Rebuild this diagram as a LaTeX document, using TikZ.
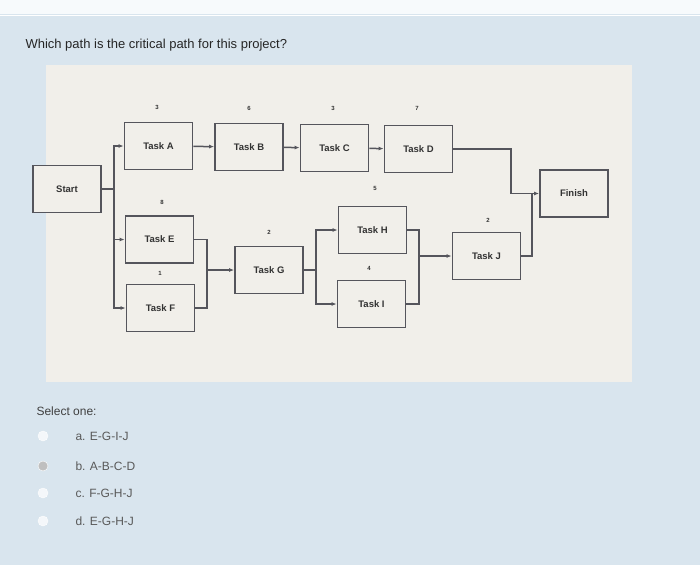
\documentclass[tikz,border=0pt]{standalone}
\usepackage{fontspec}
\setmainfont{Liberation Sans}
\usetikzlibrary{arrows.meta}
\definecolor{pagebg}{HTML}{D9E5EE}
\definecolor{diagbg}{HTML}{F1EFEA}
\definecolor{boxline}{HTML}{55555C}
\begin{document}
\begin{tikzpicture}[x=1pt,y=-1pt,
  task/.style={draw=boxline,line width=1.8pt,fill=diagbg,minimum width=68pt,minimum height=47pt,font=\fontsize{9.5}{11}\selectfont\bfseries,text=black!80},
  dur/.style={font=\fontsize{6}{7}\selectfont\bfseries,text=black!80},
  conn/.style={draw=boxline,line width=1.5pt},
  arr/.style={conn,-{Latex[length=5pt,width=4pt]}},
  opt/.style={anchor=west,font=\fontsize{12}{14}\selectfont,text=black!65},
  radio/.style={circle,draw=white,fill=white!70!pagebg,minimum size=10pt,inner sep=0pt}]
\useasboundingbox (0,0) rectangle (700,565);
\fill[pagebg] (0,0) rectangle (700,565);
\fill[white!80!pagebg] (0,0) rectangle (700,14);
\draw[white,line width=1pt] (0,15) -- (700,15);
\fill[diagbg] (46,65) rectangle (632,382);
\node[anchor=west,font=\fontsize{13}{15}\selectfont,text=black!85] (q) at (22,45) {Which path is the critical path for this project?};
\node[task] (st) at (67,189) {Start};
\node[task] (A) at (158.5,146) {Task A};
\node[task] (B) at (249,147) {Task B};
\node[task] (C) at (334.5,148) {Task C};
\node[task] (D) at (418.5,149) {Task D};
\node[task] (fin) at (574,193.5) {Finish};
\node[task] (E) at (159.5,239.5) {Task E};
\node[task] (F) at (160.5,308) {Task F};
\node[task] (G) at (269,270) {Task G};
\node[task] (H) at (372.5,230) {Task H};
\node[task] (I) at (371.5,304) {Task I};
\node[task] (J) at (486.5,256) {Task J};
\node[dur] (dA) at (157,107) {3};
\node[dur] (dB) at (249,108) {6};
\node[dur] (dC) at (333,108) {3};
\node[dur] (dD) at (417,108) {7};
\node[dur] (dE) at (162,202) {8};
\node[dur] (dF) at (160,273) {1};
\node[dur] (dG) at (269,232) {2};
\node[dur] (dH) at (375,188) {5};
\node[dur] (dI) at (369,268) {4};
\node[dur] (dJ) at (488,220) {2};
\coordinate (j1) at (114,189);
\draw[conn] (st.east) -- (j1);
\draw[arr] (j1) |- (A.west);
\draw[arr] (j1) |- (E.west);
\draw[arr] (j1) |- (F.west);
\draw[arr] (A) -- (B);
\draw[arr] (B) -- (C);
\draw[arr] (C) -- (D);
\coordinate (j2) at (207,270);
\draw[conn] (E.east) -| (j2);
\draw[conn] (F.east) -| (j2);
\draw[arr] (j2) -- (G.west);
\coordinate (j3) at (316,270);
\draw[conn] (G.east) -- (j3);
\draw[arr] (j3) |- (H.west);
\draw[arr] (j3) |- (I.west);
\coordinate (j4) at (419,256);
\draw[conn] (H.east) -| (j4);
\draw[conn] (I.east) -| (j4);
\draw[arr] (j4) -- (J.west);
\coordinate (j5) at (511,193.5);
\coordinate (j6) at (532,193.5);
\draw[conn] (D.east) -| (j5);
\draw[arr] (j5) -- (fin.west);
\draw[conn] (J.east) -| (j6);
\node[anchor=west,font=\fontsize{12}{14}\selectfont,text=black!75] (sel) at (33,411) {Select one:};
\node[radio] (ra) at (43,436) {};
\node[radio,fill=black!25] (rb) at (43,466) {};
\node[radio] (rc) at (43,493) {};
\node[radio] (rd) at (43,521) {};
\node[opt] (oa) at (72,436) {a. E-G-I-J};
\node[opt] (ob) at (72,466) {b. A-B-C-D};
\node[opt] (oc) at (72,493) {c. F-G-H-J};
\node[opt] (od) at (72,521) {d. E-G-H-J};
\end{tikzpicture}
\end{document}
